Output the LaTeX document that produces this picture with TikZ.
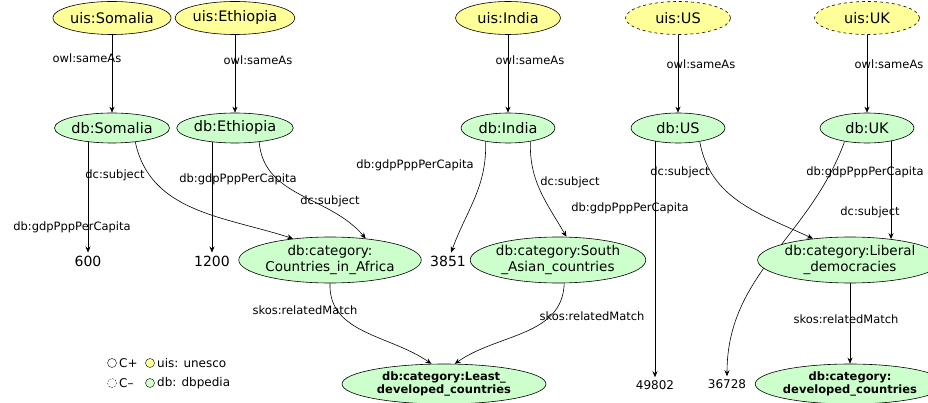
\documentclass[tikz,border=0pt]{standalone}
\usepackage{fontspec}
\setmainfont{DejaVu Sans}
\usetikzlibrary{shapes.geometric,arrows.meta,backgrounds}
\definecolor{uisyellow}{HTML}{FFFF99}
\definecolor{dbgreen}{HTML}{CCFFCC}
\tikzset{link/.style={line width=0.6pt,-{Stealth[length=6pt,width=5pt]}}}
\tikzset{uis/.style={ellipse,draw,line width=0.6pt,fill=uisyellow,minimum width=105pt,minimum height=33pt,inner sep=0pt,font=\fontsize{14.5}{16}\selectfont}}
\tikzset{db/.style={ellipse,draw,line width=0.6pt,fill=dbgreen,minimum width=94pt,minimum height=30pt,inner sep=0pt,font=\fontsize{14.5}{16}\selectfont}}
\tikzset{cat/.style={ellipse,draw,line width=0.6pt,fill=dbgreen,minimum height=46pt,inner sep=0pt,align=center,font=\fontsize{13.5}{15.5}\selectfont}}
\tikzset{topcat/.style={ellipse,draw,line width=0.6pt,fill=dbgreen,minimum height=40pt,inner sep=0pt,align=center,font=\fontsize{11.5}{13.5}\selectfont\bfseries}}
\tikzset{val/.style={inner sep=3pt,font=\fontsize{14}{16}\selectfont}}
\tikzset{lbl/.style={inner sep=0pt,font=\fontsize{11.5}{13}\selectfont}}
\tikzset{legend/.style={inner sep=0pt,anchor=west,font=\fontsize{12}{14}\selectfont}}

\begin{document}
\begin{tikzpicture}[x=1pt,y=-1pt]
        \useasboundingbox (0,0) rectangle (928,403);
        % unesco resources
        \node[uis] (uisSom) at (112,18) {uis:Somalia};
        \node[uis] (uisEth) at (235,18) {uis:Ethiopia};
        \node[uis] (uisInd) at (508,18) {uis:India};
        \node[uis,dashed] (uisUS) at (678,18) {uis:US};
        \node[uis,dashed] (uisUK) at (867,18) {uis:UK};
        % dbpedia resources
        \node[db] (dbSom) at (112,128) {db:Somalia};
        \node[db] (dbEth) at (235,128) {db:Ethiopia};
        \node[db] (dbInd) at (508,128) {db:India};
        \node[db] (dbUS) at (678,128) {db:US};
        \node[db] (dbUK) at (867,128) {db:UK};
        % values
        \node[val] (v600) at (88,261) {600};
        \node[val] (v1200) at (212,261) {1200};
        \node[val] (v3851) at (448,261) {3851};
        \node[val,font=\fontsize{12}{14}\selectfont] (v49802) at (655,385) {49802};
        \node[val,font=\fontsize{12}{14}\selectfont] (v36728) at (727,384) {36728};
        % categories
        \node[cat,minimum width=152pt] (catAfr) at (330,260) {db:category:\\Countries\_in\_Africa};
        \node[cat,minimum width=140pt] (catSA) at (558,260) {db:category:South\\\_Asian\_countries};
        \node[cat,minimum width=154pt] (catLib) at (850,260) {db:category:Liberal\\\_democracies};
        \node[topcat,minimum width=204pt] (catLeast) at (444,384) {db:category:Least\_\\developed\_countries};
        \node[topcat,minimum width=154pt] (catDev) at (850,384) {db:category:\\developed\_countries};
        % connectors
        \begin{scope}[on background layer]
            \draw[link] (uisSom) -- (dbSom);
            \draw[link] (uisEth) -- (dbEth);
            \draw[link] (uisInd) -- (dbInd);
            \draw[link] (uisUS) -- (dbUS);
            \draw[link] (uisUK) -- (dbUK);
            \draw[link] (v600 |- dbSom.center) -- (v600);
            \draw[link] (v1200 |- dbEth.center) -- (v1200);
            \draw[link] (v49802 |- dbUS.center) -- (v49802);
            \draw[link] (catLib.27 |- dbUK.center) -- (catLib.27);
            \draw[link] (catLib) -- (catDev);
            \draw[link] (dbSom.-31) to[out=-78,in=162] (catAfr.150);
            \draw[link] (dbEth.-30) to[out=-85,in=130] (catAfr.31);
            \draw[link] (dbInd.-149) to[out=-88,in=70] (v3851);
            \draw[link] (dbInd.-31) to[out=-92,in=120] (catSA.70);
            \draw[link] (dbUS.-32) to[out=-80,in=155] (catLib.150);
            \draw[link] (dbUK.-149) to[out=-110,in=90] (v36728);
            \draw[link] (catAfr.south) to[out=-92,in=145] (catLeast.122);
            \draw[link] (catSA.-75) to[out=-92,in=35] (catLeast.62);
        \end{scope}
        % connector labels
        \node[lbl] (lSame1) at (87,58) {owl:sameAs};
        \node[lbl] (lSame2) at (258,60) {owl:sameAs};
        \node[lbl] (lSame3) at (530,60) {owl:sameAs};
        \node[lbl] (lSame4) at (701,64) {owl:sameAs};
        \node[lbl] (lSame5) at (889,64) {owl:sameAs};
        \node[lbl] (lSubj1) at (115,175) {dc:subject};
        \node[lbl] (lGdp1) at (72,227) {db:gdpPppPerCapita};
        \node[lbl] (lGdp2) at (238,179) {db:gdpPppPerCapita};
        \node[lbl] (lSubj2) at (330,201) {dc:subject};
        \node[lbl] (lGdp3) at (415,165) {db:gdpPppPerCapita};
        \node[lbl] (lSubj3) at (570,182) {dc:subject};
        \node[lbl] (lSubj4) at (680,172) {dc:subject};
        \node[lbl] (lGdp4) at (630,208) {db:gdpPppPerCapita};
        \node[lbl] (lGdp5) at (865,172) {db:gdpPppPerCapita};
        \node[lbl] (lSubj5) at (870,212) {dc:subject};
        \node[lbl] (lRel1) at (305,310) {skos:relatedMatch};
        \node[lbl] (lRel2) at (592,316) {skos:relatedMatch};
        \node[lbl] (lRel3) at (846,319) {skos:relatedMatch};
        % legend
        \draw (112,363) circle (4.5);
        \node[legend] (lgPlus) at (119,363) {C+};
        \draw[fill=uisyellow] (150,363) circle (4.5);
        \node[legend] (lgUis) at (157,363) {uis: unesco};
        \draw[dashed,dash pattern=on 1.5pt off 1.5pt] (112,383) circle (4.5);
        \node[legend] (lgMinus) at (119,383) {C–};
        \draw[fill=dbgreen] (150,383) circle (4.5);
        \node[legend] (lgDb) at (157,383) {db: dbpedia};
    \end{tikzpicture}
\end{document}
